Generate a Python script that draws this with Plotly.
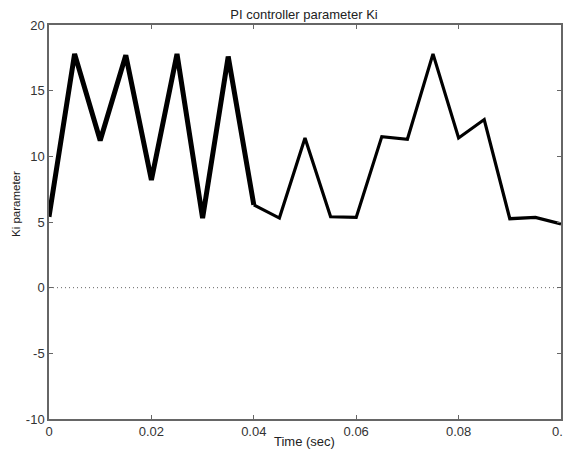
import plotly.graph_objects as go

time_s = [0.0, 0.005, 0.01, 0.015, 0.02, 0.025, 0.03, 0.035, 0.04, 0.045, 0.05,
          0.055, 0.06, 0.065, 0.07, 0.075, 0.08, 0.085, 0.09, 0.095, 0.1]
ki_values = [5.4, 17.8, 11.2, 17.7, 8.2, 17.8, 5.3, 17.6, 6.3, 5.3, 11.4,
             5.4, 5.35, 11.5, 11.3, 17.8, 11.4, 12.8, 5.25, 5.35, 4.85]
x_ticks = [0, 0.02, 0.04, 0.06, 0.08, 0.1]
x_tick_labels = ["0", "0.02", "0.04", "0.06", "0.08", "0.1"]
y_ticks = [-10, -5, 0, 5, 10, 15, 20]
y_tick_labels = ["-10", "-5", "0", "5", "10", "15", "20"]

split = 9  # first part is drawn heavier in the reference

FONT = "Arial, Liberation Sans, sans-serif"
# page body has an 8px default margin; figure sized so it ends at the window edge
W, H = 563, 445
ML, MR, MT, MB = 41, 10, 17, 34
PW, PH = W - ML - MR, H - MT - MB

fig = go.Figure()
fig.add_hline(y=0, line=dict(color="#666666", width=1, dash="1px,3px"))
fig.add_trace(go.Scatter(x=time_s[:split], y=ki_values[:split], mode="lines",
                         line=dict(color="black", width=5), showlegend=False))
fig.add_trace(go.Scatter(x=time_s[split - 1:], y=ki_values[split - 1:], mode="lines",
                         line=dict(color="black", width=3.2), showlegend=False))

axis_common = dict(showgrid=False, zeroline=False, showline=True, linecolor="#666666",
                   linewidth=1.5, mirror="ticks", ticks="inside", ticklen=4,
                   tickcolor="#666666", automargin=False, ticklabeloverflow="allow",
                   tickfont=dict(family=FONT, size=13, color="#333333"))

fig.update_layout(
    width=W, height=H,
    margin=dict(l=ML, r=MR, t=MT, b=MB),
    paper_bgcolor="white", plot_bgcolor="white",
    title=dict(text="PI controller parameter Ki", x=(304 - 8) / W, xanchor="center",
               y=1 - (14 - 8) / H, yanchor="middle",
               font=dict(family=FONT, size=13, color="#222222")),
    xaxis=dict(range=[0, 0.1], tickvals=x_ticks, ticktext=x_tick_labels, **axis_common),
    yaxis=dict(range=[-10, 20], tickvals=y_ticks, ticktext=y_tick_labels, **axis_common),
    annotations=[
        dict(text="Time (sec)", xref="paper", yref="paper", x=(304 - 49) / PW,
             y=-(442 - 419) / PH, xanchor="center", yanchor="middle", showarrow=False,
             font=dict(family=FONT, size=13, color="#222222")),
        dict(text="Ki parameter", xref="paper", yref="paper", x=-(49 - 16) / PW,
             y=(419 - 204) / PH, xanchor="center", yanchor="middle", showarrow=False,
             textangle=-90, font=dict(family=FONT, size=11.5, color="#222222")),
    ],
)

fig.write_html("out.html")
